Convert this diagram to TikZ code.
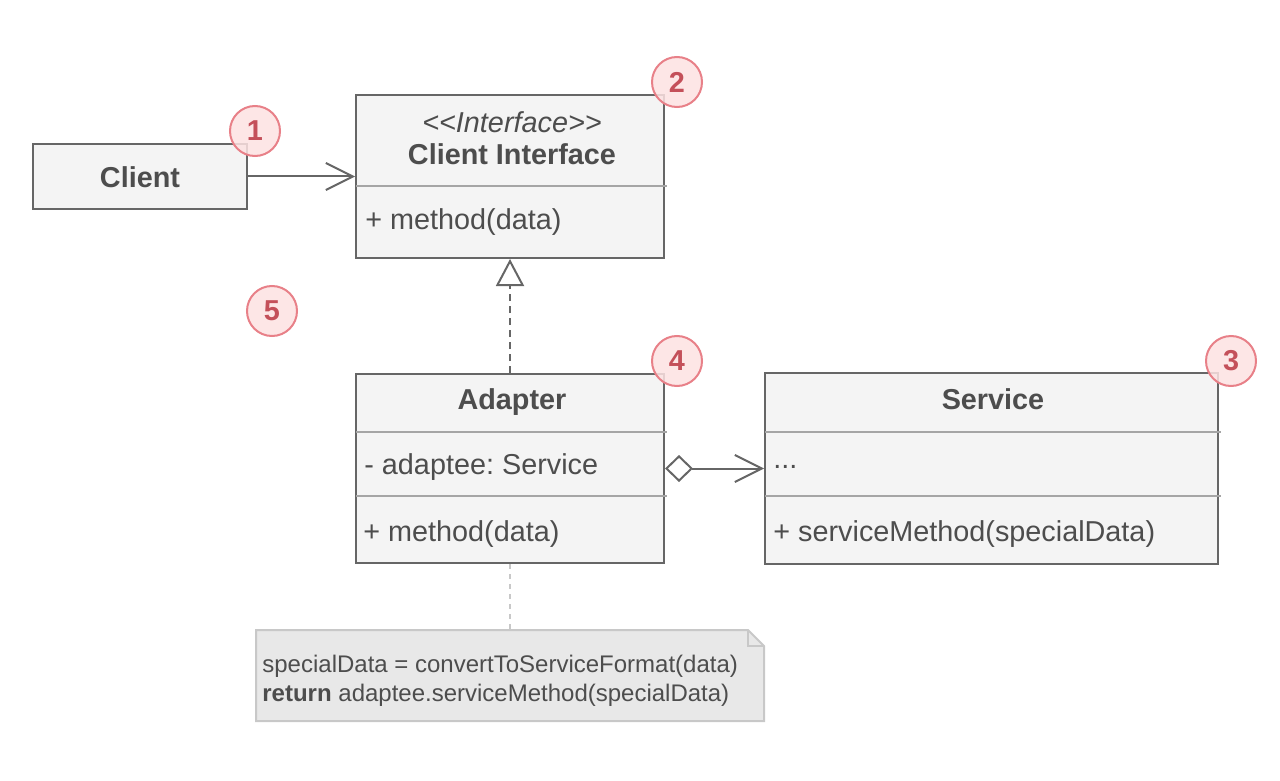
\documentclass[tikz,border=0pt]{standalone}
\usepackage{fontspec}
\setmainfont{Liberation Sans}
\usetikzlibrary{positioning,arrows.meta,calc}
\definecolor{boxfill}{RGB}{244,244,244}
\definecolor{boxline}{RGB}{102,102,102}
\definecolor{divline}{RGB}{165,165,165}
\definecolor{textgray}{RGB}{77,77,77}
\definecolor{notefill}{RGB}{232,232,232}
\definecolor{noteline}{RGB}{200,200,200}
\definecolor{pinkfill}{RGB}{253,226,226}
\definecolor{pinkline}{RGB}{232,128,136}
\definecolor{numred}{RGB}{196,80,90}

\begin{document}
\begin{tikzpicture}[x=0.5pt,y=-0.5pt,
  classbox/.style={draw=boxline,fill=boxfill,line width=1pt,inner sep=0pt},
  divider/.style={divline,line width=1pt},
  txt/.style={text=textgray,font=\fontsize{14.4}{17}\selectfont,inner sep=0pt},
  notetxt/.style={text=textgray,font=\fontsize{12}{14}\selectfont,inner sep=0pt,anchor=west},
  numcircle/.style={circle,draw=pinkline,fill=pinkfill,fill opacity=0.85,text opacity=1,
    line width=1pt,minimum size=25pt,inner sep=0pt,text=numred,
    font=\bfseries\fontsize{14.4}{17}\selectfont},
  conn/.style={boxline,line width=1pt},
  openhead/.style={-{Straight Barb[length=13.5pt,width=13.5pt]}}]
\useasboundingbox (0,0) rectangle (1280,781);

% Client
\node[classbox,minimum width=107pt,minimum height=32pt] (client) at (140,176.5) {};
\node[txt,font=\bfseries\fontsize{14.4}{17}\selectfont] (clientname) at (140,177) {Client};

% Client interface
\node[classbox,minimum width=154pt,minimum height=81.5pt] (iface) at (510,176.5) {};
\draw[divider] (356,186) -- (667,186);
\node[txt,font=\itshape\fontsize{14.4}{17}\selectfont] (ifacestereo) at (512,122) {<{}<Interface>{}>};
\node[txt,font=\bfseries\fontsize{14.4}{17}\selectfont] (ifacename) at (512,154) {Client Interface};
\node[txt,anchor=west] (ifacemethod) at (365,222) {+ method(data)};

% Adapter
\node[classbox,minimum width=154pt,minimum height=94.5pt] (adapter) at (510,468.5) {};
\draw[divider] (356,432) -- (667,432);
\draw[divider] (356,496) -- (667,496);
\node[txt,font=\bfseries\fontsize{14.4}{17}\selectfont] (adaptername) at (512,402) {Adapter};
\node[txt,anchor=west] (adapterfield) at (364,467) {\frenchspacing - adaptee: Service};
\node[txt,anchor=west] (adaptermethod) at (363,534) {+ method(data)};

% Service
\node[classbox,minimum width=226.5pt,minimum height=95.5pt] (service) at (991.5,468.5) {};
\draw[divider] (765,432) -- (1221,432);
\draw[divider] (765,496) -- (1221,496);
\node[txt,font=\bfseries\fontsize{14.4}{17}\selectfont] (servicename) at (993,399) {Service};
\node[txt,anchor=west] (servicefield) at (773,467) {...};
\node[txt,anchor=west] (servicemethod) at (773,534) {+ serviceMethod(specialData)};

% Note
\draw[draw=noteline,fill=notefill,line width=1pt]
  (256,630) -- (748,630) -- (764,646) -- (764,721) -- (256,721) -- cycle;
\draw[draw=noteline,line width=1pt] (748,630) -- (748,646) -- (764,646);
\coordinate (notetop) at (510,630);
\node[notetxt] (noteline1) at (262,666) {specialData = convertToServiceFormat(data)};
\node[notetxt] (noteline2) at (262,695) {\textbf{return} adaptee.serviceMethod(specialData)};

% Connectors
\draw[conn,openhead] (client.east) -- (iface.west);
\draw[conn,dash pattern=on 3.5pt off 2.5pt,-{Triangle[open,fill=white,length=13.5pt,width=14pt]}]
  (adapter.north) -- (iface.south);
\draw[conn,{Diamond[open,fill=white,length=14pt,width=13.5pt]}-{Straight Barb[length=13.5pt,width=13.5pt]}]
  (adapter.east) -- (service.west);
\draw[noteline,line width=1pt,dash pattern=on 2.5pt off 2.5pt] (adapter.south) -- (notetop);

% Numbers
\node[numcircle] (num1) at (255,131) {1};
\node[numcircle] (num2) at (677,82) {2};
\node[numcircle] (num3) at (1231,361) {3};
\node[numcircle] (num4) at (677,361) {4};
\node[numcircle] (num5) at (272,311) {5};
\end{tikzpicture}
\end{document}
